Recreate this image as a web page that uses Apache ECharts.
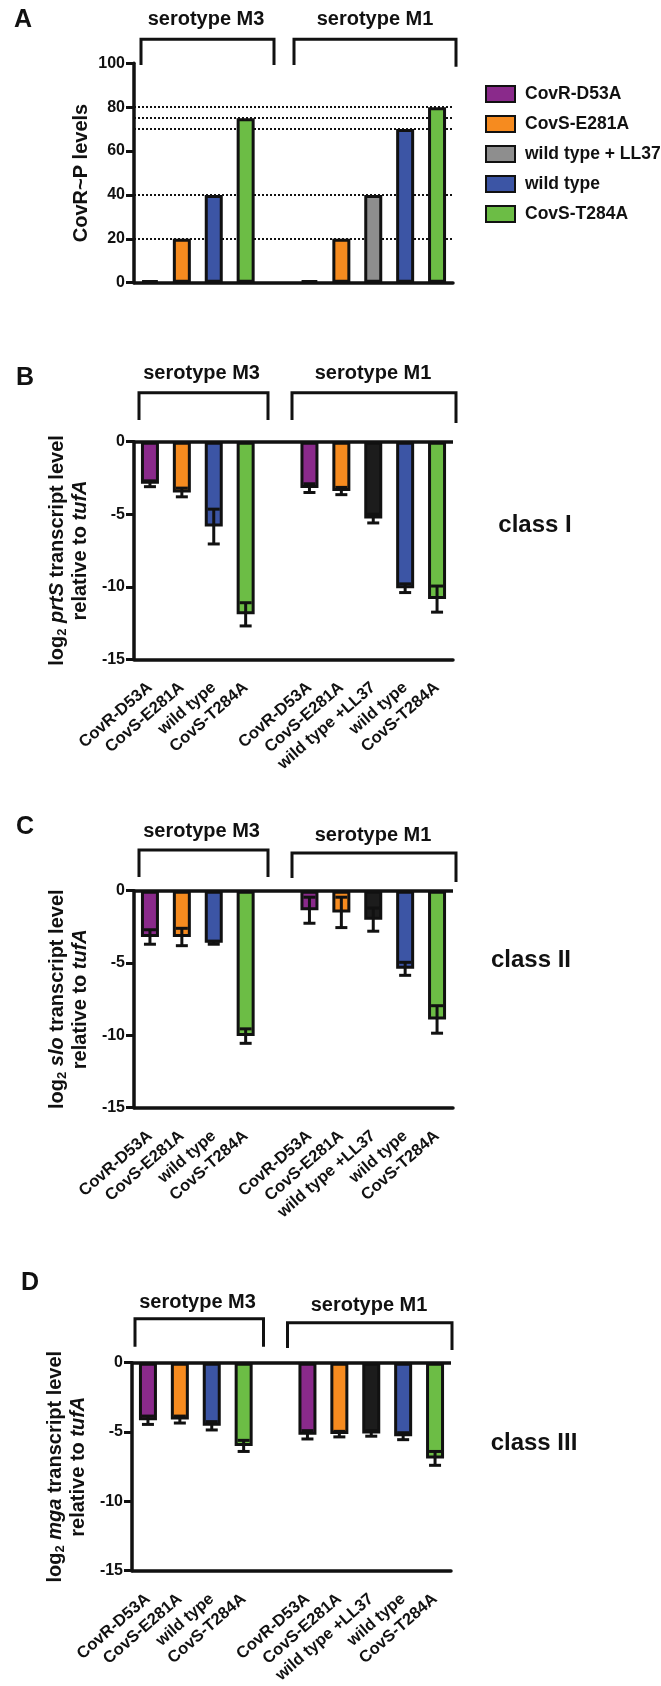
<!DOCTYPE html>
<html><head><meta charset="utf-8">
<script src="https://cdn.jsdelivr.net/npm/echarts@6/dist/echarts.min.js"></script>
<style>html,body{margin:0;padding:0;background:#fff}#c{width:661px;height:1686px}</style>
</head><body><div id="c"></div>
<script>
// ---------- data ----------
const categories = ['CovR-D53A','CovS-E281A','wild type','CovS-T284A','','CovR-D53A','CovS-E281A','wild type +LL37','wild type','CovS-T284A'];
const strains = ['CovR-D53A','CovS-E281A','wild type + LL37','wild type','CovS-T284A'];
const strainOfCategory = [0,1,3,4,null,0,1,2,3,4];
const groupTitles = ['serotype M3','serotype M1'];
const classLabels = ['class I','class II','class III'];
const panelLetters = ['A','B','C','D'];

const covrpLevels = [1,20,40,75,null,1,20,40,70,80];
const covrpRefLines = [80,75,70,40,20];

const prtSMean = [-2.9,-3.5,-5.85,-11.9,null,-3.2,-3.4,-5.3,-10.1,-10.85];
const prtSErr  = [0.2,0.3,1.2,0.8,null,0.3,0.25,0.3,0.3,0.9];
const sloMean  = [-3.2,-3.2,-3.6,-10.05,null,-1.35,-1.5,-2.0,-5.4,-8.9];
const sloErr   = [0.5,0.6,0.1,0.5,null,0.9,1.05,0.8,0.45,0.95];
const mgaMean  = [-4.15,-4.1,-4.55,-6.0,null,-5.2,-5.15,-5.1,-5.3,-6.9];
const mgaErr   = [0.3,0.25,0.3,0.4,null,0.3,0.2,0.2,0.25,0.5];

const yAxisA = {min:0, max:100, interval:20};
const yAxisLog = {min:-15, max:0, interval:5};

// ---------- styling / layout ----------
const FONT = '"Liberation Sans", Arial, Helvetica, sans-serif';
const INK = '#111';
const colorsA = ['#8a2a8b','#f68b1f','#8e8e8e','#3c55a5','#6cbd45'];
const colorsLog = ['#8a2a8b','#f68b1f','#1c1c1c','#3c55a5','#6cbd45'];

const panels = [
  {top:63.3, height:219.4, left:134, width:319, letter:[23,20],
   titles:[[206,19.5],[375,19.5]],
   brackets:[{x:[141,274], top:39.3, legs:[65,65]}, {x:[294,456], top:39.3, legs:[65,66.7]}]},
  {top:441.7, height:217.6, left:134, width:319, letter:[25,378],
   titles:[[201.6,373],[373,373]], cls:[535,525],
   brackets:[{x:[139,268], top:392.7, legs:[420,420]}, {x:[292,456], top:392.7, legs:[420,423]}]},
  {top:890.7, height:217, left:134, width:319, letter:[25,827],
   titles:[[201.6,831.7],[373,835]], cls:[531,960],
   brackets:[{x:[139,268], top:850, legs:[877,877]}, {x:[292,456], top:853, legs:[878,882]}]},
  {top:1362.7, height:216.6, left:132, width:319, letter:[30,1283],
   titles:[[197.5,1302.7],[369,1305]], cls:[534,1443],
   brackets:[{x:[135,263.5], top:1318.7, legs:[1346.7,1346.7]}, {x:[287.5,452], top:1322.7, legs:[1348,1350]}]}
];

const logPanels = [
  {gene:'prtS', mean:prtSMean, err:prtSErr},
  {gene:'slo', mean:sloMean, err:sloErr},
  {gene:'mga', mean:mgaMean, err:mgaErr}
];

// ---------- build option ----------
const grid = [], xAxis = [], yAxis = [], series = [], graphic = [];

const nameRich = {
  t:{fontSize:20, fontWeight:'bold', color:INK, lineHeight:23, fontFamily:FONT},
  i:{fontSize:20, fontWeight:'bold', fontStyle:'italic', color:INK, lineHeight:23, fontFamily:FONT},
  s:{fontSize:13, fontWeight:'bold', color:INK, lineHeight:12, verticalAlign:'bottom', fontFamily:FONT}
};

panels.forEach((p, gi) => {
  grid.push({left:p.left, top:p.top, width:p.width, height:p.height});
  xAxis.push({
    gridIndex:gi, type:'category', data:categories,
    axisLine:{onZero:false, lineStyle:{color:INK, width:3.5}},
    axisTick:{alignWithLabel:true, interval:0, length:9, lineStyle:{color:INK, width:3.5}},
    axisLabel: gi === 0 ? {show:false} :
      {interval:0, rotate:41, margin:26, fontSize:16.5, fontWeight:'bold', color:INK, fontFamily:FONT},
    splitLine:{show:false}
  });
  const yr = gi === 0 ? yAxisA : yAxisLog;
  const yName = gi === 0 ? 'CovR~P levels' :
    '{t|log}{s|2}{t| }{i|' + logPanels[gi-1].gene + '}{t| transcript level}\n{t|relative to }{i|tufA}';
  yAxis.push({
    gridIndex:gi, type:'value', min:yr.min, max:yr.max, interval:yr.interval,
    name:yName, nameLocation:'middle', nameRotate:90, nameGap: gi === 0 ? 43 : 42,
    nameTextStyle: gi === 0 ? {fontSize:20, fontWeight:'bold', color:INK, fontFamily:FONT} : {rich:nameRich},
    axisLine:{show:true, lineStyle:{color:INK, width:3.5}},
    axisTick:{show:true, length:8, lineStyle:{color:INK, width:3}},
    axisLabel:{fontSize:16, fontWeight:'bold', color:INK, margin:9, fontFamily:FONT},
    splitLine:{show:false}
  });

  const values = gi === 0 ? covrpLevels : logPanels[gi-1].mean;
  const colors = gi === 0 ? colorsA : colorsLog;
  strains.forEach((s, si) => {
    const ser = {
      type:'bar', name:s, xAxisIndex:gi, yAxisIndex:gi,
      barWidth:18, barGap:'-100%', z:2,
      itemStyle:{color:colors[si], borderColor:INK, borderWidth:3},
      data: values.map((v, k) => strainOfCategory[k] === si ? v : null)
    };
    if (si === 0) {
      if (gi === 0) {
        ser.markLine = {silent:true, symbol:['none','none'], z:1, animation:false,
          label:{show:false}, lineStyle:{color:INK, type:[2,2], width:2},
          data: covrpRefLines.map(v => ({yAxis:v}))};
      } else {
        ser.markLine = {silent:true, symbol:['none','none'], z:6, animation:false,
          label:{show:false}, lineStyle:{color:INK, type:'solid', width:3.5},
          data:[{yAxis:0}]};
      }
    }
    series.push(ser);
  });

  if (gi > 0) {
    const lp = logPanels[gi-1];
    series.push({
      type:'custom', name:'error', xAxisIndex:gi, yAxisIndex:gi, z:5, silent:true,
      data: lp.mean.map((m, k) => m == null ? null : [k, m, lp.err[k]]).filter(d => d),
      renderItem(params, api) {
        const x = api.value(0), m = api.value(1), e = api.value(2);
        const a = api.coord([x, m + e]), b = api.coord([x, m - e]);
        const hw = 6, st = {stroke:INK, lineWidth:3};
        return {type:'group', children:[
          {type:'line', shape:{x1:a[0], y1:a[1], x2:b[0], y2:b[1]}, style:st},
          {type:'line', shape:{x1:a[0]-hw, y1:a[1], x2:a[0]+hw, y2:a[1]}, style:st},
          {type:'line', shape:{x1:b[0]-hw, y1:b[1], x2:b[0]+hw, y2:b[1]}, style:st}
        ]};
      }
    });
  }

  // annotations: panel letter, group titles, brackets, class label
  const txt = (t, pos, size) => ({type:'text', x:pos[0], y:pos[1], silent:true,
    style:{text:t, font:'bold ' + size + 'px ' + FONT, fill:INK,
      align:'center', verticalAlign:'middle', textAlign:'center', textVerticalAlign:'middle'}});
  graphic.push(txt(panelLetters[gi], p.letter, 25));
  p.titles.forEach((pos, k) => graphic.push(txt(groupTitles[k], pos, 20)));
  if (p.cls) graphic.push(txt(classLabels[gi-1], p.cls, 24));
  p.brackets.forEach(b => graphic.push({type:'polyline', silent:true,
    shape:{points:[[b.x[0], b.legs[0]], [b.x[0], b.top], [b.x[1], b.top], [b.x[1], b.legs[1]]]},
    style:{stroke:INK, lineWidth:3, fill:null, lineJoin:'miter'}}));
});

const option = {
  animation:false,
  backgroundColor:'#fff',
  textStyle:{fontFamily:FONT},
  legend:{data:strains, orient:'vertical', left:485, top:85, padding:0,
    itemWidth:29, itemHeight:16, itemGap:12, icon:'rect', selectedMode:false,
    textStyle:{fontSize:17.5, fontWeight:'bold', color:INK, fontFamily:FONT, padding:[0,0,0,5]}},
  grid, xAxis, yAxis, series, graphic
};

const chart = echarts.init(document.getElementById('c'), null, {renderer:'canvas'});
chart.setOption(option);
</script></body></html>
